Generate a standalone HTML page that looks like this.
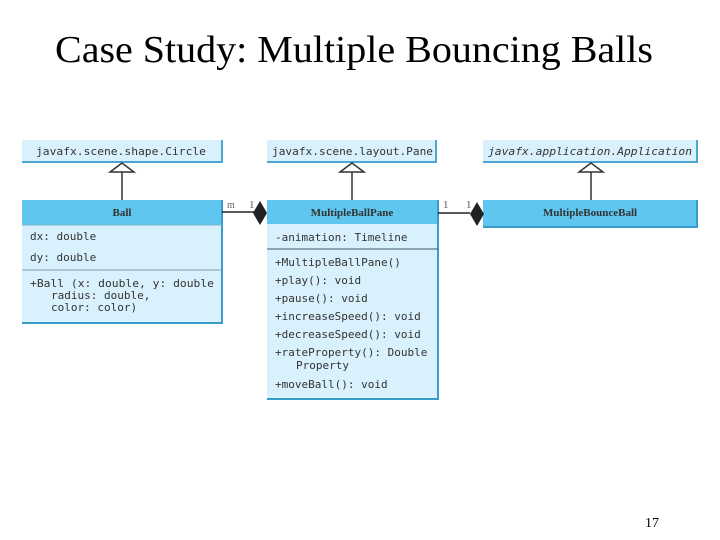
<!DOCTYPE html>
<html><head><meta charset="utf-8"><style>
html,body{margin:0;padding:0;background:#fff;}
svg{display:block;}
.m{font-family:"DejaVu Sans Mono","Liberation Mono",monospace;font-size:11px;fill:#333;}
.b{font-family:"Liberation Serif",serif;font-size:11px;font-weight:bold;fill:#333;}
</style></head><body>
<svg width="720" height="540" xmlns="http://www.w3.org/2000/svg">
<text x="354" y="62" text-anchor="middle" font-family="Liberation Serif,serif" font-size="38" textLength="598" lengthAdjust="spacingAndGlyphs">Case Study: Multiple Bouncing Balls</text>

<!-- top boxes -->
<g>
<rect x="22" y="140" width="200" height="21" fill="#d9f1fc"/>
<path d="M222 140V162H22" stroke="#4aa8d0" stroke-width="2" fill="none"/>
<text class="m" x="36" y="155" textLength="170" lengthAdjust="spacingAndGlyphs">javafx.scene.shape.Circle</text>

<rect x="267" y="140" width="169" height="21" fill="#d9f1fc"/>
<path d="M436 140V162H267" stroke="#4aa8d0" stroke-width="2" fill="none"/>
<text class="m" x="272" y="155" textLength="161" lengthAdjust="spacingAndGlyphs">javafx.scene.layout.Pane</text>

<rect x="483" y="140" width="214" height="21" fill="#d9f1fc"/>
<path d="M697 140V162H483" stroke="#4aa8d0" stroke-width="2" fill="none"/>
<text class="m" x="488" y="155" font-style="italic" textLength="204" lengthAdjust="spacingAndGlyphs">javafx.application.Application</text>
</g>

<!-- inheritance -->
<g stroke="#333" stroke-width="1.5" fill="#fff">
<line x1="122" y1="172" x2="122" y2="200"/><polygon points="122,163 110,172 134,172"/>
<line x1="352" y1="172" x2="352" y2="200"/><polygon points="352,163 340,172 364,172"/>
<line x1="591" y1="172" x2="591" y2="200"/><polygon points="591,163 579,172 603,172"/>
</g>

<!-- Ball -->
<rect x="22" y="200" width="200" height="122" fill="#d9f1fc"/>
<rect x="22" y="200" width="200" height="25" fill="#5ec6ef"/>
<path d="M222 200V323H22" stroke="#3a9cc8" stroke-width="2" fill="none"/>
<line x1="22" y1="225" x2="222" y2="225" stroke="#7bb9d6"/>
<line x1="22" y1="270" x2="222" y2="270" stroke="#7a9fb0"/>
<text class="b" x="122" y="216" text-anchor="middle">Ball</text>
<text class="m" x="30" y="240">dx: double</text>
<text class="m" x="30" y="261">dy: double</text>
<text class="m" x="30" y="287" textLength="184" lengthAdjust="spacingAndGlyphs">+Ball (x: double, y: double</text>
<text class="m" x="51" y="299">radius: double,</text>
<text class="m" x="51" y="311">color: color)</text>

<!-- MultipleBallPane -->
<rect x="267" y="200" width="171" height="198" fill="#d9f1fc"/>
<rect x="267" y="200" width="171" height="24" fill="#5ec6ef"/>
<path d="M438 200V399H267" stroke="#3a9cc8" stroke-width="2" fill="none"/>
<line x1="267" y1="249" x2="438" y2="249" stroke="#456"/>
<text class="b" x="352" y="216" text-anchor="middle">MultipleBallPane</text>
<text class="m" x="275" y="241">-animation: Timeline</text>
<text class="m" x="275" y="266">+MultipleBallPane()</text>
<text class="m" x="275" y="284">+play(): void</text>
<text class="m" x="275" y="302">+pause(): void</text>
<text class="m" x="275" y="320">+increaseSpeed(): void</text>
<text class="m" x="275" y="338">+decreaseSpeed(): void</text>
<text class="m" x="275" y="356">+rateProperty(): Double</text>
<text class="m" x="296" y="369">Property</text>
<text class="m" x="275" y="388">+moveBall(): void</text>

<!-- MultipleBounceBall -->
<rect x="483" y="200" width="214" height="26" fill="#5ec6ef"/>
<path d="M697 200V227H483" stroke="#3a9cc8" stroke-width="2" fill="none"/>
<text class="b" x="590" y="216" text-anchor="middle">MultipleBounceBall</text>

<!-- compositions -->
<line x1="222" y1="212" x2="254" y2="212" stroke="#222" stroke-width="1.5"/>
<polygon points="260,201 267,213 260,225 253,213" fill="#222"/>
<text x="227" y="208" font-family="Liberation Serif,serif" font-size="10" fill="#666">m</text>
<text x="249" y="208" font-family="Liberation Serif,serif" font-size="11" fill="#555">1</text>

<line x1="438" y1="213" x2="470" y2="213" stroke="#222" stroke-width="1.5"/>
<polygon points="477,202 484,214 477,226 470,214" fill="#222"/>
<text x="443" y="208" font-family="Liberation Serif,serif" font-size="11" fill="#555">1</text>
<text x="466" y="208" font-family="Liberation Serif,serif" font-size="11" fill="#555">1</text>

<text x="645" y="527" font-family="Liberation Serif,serif" font-size="14" fill="#000">17</text>
</svg>
</body></html>
